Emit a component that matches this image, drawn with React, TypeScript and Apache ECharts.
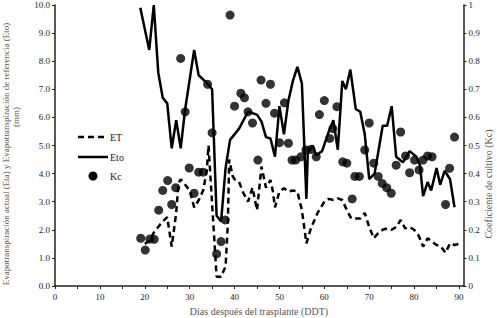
import React, { useEffect, useRef } from "react";
import * as echarts from "echarts";

const etData: [number, number][] = [
  [20, 1.5], [21, 1.6], [22, 1.9], [23, 2.1], [24, 2.3], [25, 2.45], [26, 1.4], [27, 2.6],
  [27.5, 3.65], [28, 3.8], [29, 3.6], [30, 3.4], [31, 2.8], [32, 3.05], [33, 3.4], [33.8, 4.1],
  [34.2, 5.0], [36, 0.33], [37, 0.33], [38, 0.7], [38.5, 2.2], [38.8, 4.5], [39.6, 3.9], [40, 3.8],
  [41, 3.7], [42, 3.3], [43, 3.0], [44, 3.5], [45, 2.7], [46, 4.25], [47, 3.5], [48, 3.77],
  [48.5, 3.4], [49, 2.8], [50, 3.36], [51, 3.48], [52, 3.36], [53, 3.4], [54, 3.36], [55, 2.7],
  [56, 1.52], [57, 2.05], [58.5, 2.6], [60, 3.0], [61, 3.1], [62, 3.06], [63, 3.12], [64, 3.06],
  [65, 2.7], [66, 2.4], [67, 2.4], [68, 2.4], [69, 2.6], [70, 2.1], [71, 1.7], [72, 1.88],
  [73, 2.0], [74, 2.05], [75, 2.0], [76, 2.1], [77, 2.35], [78, 2.05], [79, 2.1], [80, 2.0],
  [81, 1.8], [82, 1.4], [83, 1.7], [84, 1.58], [85, 1.46], [86, 1.4], [87, 1.18], [88, 1.52],
  [89, 1.46], [90, 1.5],
];

const etoData: [number, number][] = [
  [19, 9.9], [21, 8.4], [22, 10.0], [23, 7.6], [24, 6.7], [25, 6.5], [26, 4.9], [27, 5.9],
  [28, 4.9], [29, 6.3], [31, 8.4], [32, 7.5], [34, 7.2], [35, 7.0], [36, 2.5], [37, 2.3],
  [38, 4.2], [39, 5.2], [41, 5.6], [43, 6.2], [45, 6.1], [46, 5.85], [47, 5.3], [48, 5.25],
  [49, 4.6], [50, 6.4], [51, 5.4], [52, 6.6], [53, 7.3], [54, 7.8], [55, 7.2], [56, 3.1],
  [56.3, 4.7], [57.4, 5.0], [58.2, 4.65], [59.5, 4.8], [61, 5.5], [62, 5.9], [63, 4.85],
  [64, 7.3], [64.8, 7.0], [65.8, 7.7], [67, 6.3], [68, 6.2], [69, 5.4], [70, 3.8], [71.2, 4.0],
  [73, 5.7], [74, 5.7], [75, 6.4], [76, 4.6], [77.5, 4.4], [79, 4.8], [80.5, 4.6], [81.3, 4.3],
  [82, 3.2], [83, 3.7], [83.8, 3.4], [85, 4.2], [85.8, 3.6], [86.8, 4.1], [88, 3.8], [89, 2.8],
];

const kcData: [number, number][] = [
  [19.1, 0.17], [20.1, 0.128], [21.1, 0.167], [22.1, 0.166], [23.1, 0.27], [24, 0.34],
  [25.1, 0.375], [26, 0.29], [26.9, 0.35], [28, 0.81], [29, 0.62], [29.9, 0.42], [31, 0.33],
  [32, 0.405], [33, 0.405], [34, 0.718], [35, 0.545], [36, 0.114], [37, 0.158], [37.9, 0.235],
  [39, 0.964], [40, 0.64], [41.4, 0.686], [42.2, 0.67], [43, 0.62], [44, 0.58], [45.2, 0.448],
  [45.9, 0.733], [47, 0.65], [48, 0.718], [48.9, 0.615], [50, 0.51], [51.1, 0.652], [52, 0.508],
  [52.8, 0.448], [53.6, 0.448], [54.8, 0.46], [55.9, 0.484], [57, 0.486], [58.2, 0.46],
  [58.9, 0.61], [60, 0.66], [61.2, 0.525], [61.9, 0.56], [62.8, 0.638], [64.1, 0.442],
  [65, 0.437], [66.2, 0.31], [66.8, 0.39], [67.8, 0.39], [69, 0.484], [70, 0.58], [71, 0.437],
  [72, 0.39], [72.9, 0.365], [73.9, 0.35], [74.9, 0.33], [76, 0.43], [77, 0.548], [78.1, 0.463],
  [79, 0.403], [80.1, 0.448], [81.1, 0.413], [82, 0.448], [83, 0.463], [84, 0.46], [87, 0.29],
  [87.9, 0.419], [89, 0.53],
];

const xTitle = "Días después del trasplante (DDT)";
const yLeftTitle = "Evapotranspiración actual (Eta) y Evapotranspiración de referencia (Eto)";
const yLeftUnit = "(mm)";
const yRightTitle = "Coeficiente de cultivo (Kc)";
const legendNames = ["ET", "Eto", "Kc"];

const FONT = "'Liberation Serif', 'Times New Roman', serif";

export default function App() {
  const ref = useRef<HTMLDivElement>(null);
  useEffect(() => {
    document.body.style.margin = "0";
    if (!ref.current) return;
    const chart = echarts.init(ref.current, null, { renderer: "svg" });
    const axisLine = { show: true, lineStyle: { color: "#222", width: 1.5 } };
    const axisTick = { show: true, inside: false, length: 3, lineStyle: { color: "#222", width: 1 } };
    const labelStyle = { color: "#222", fontSize: 9, fontFamily: FONT };
    chart.setOption({
      animation: false,
      backgroundColor: "#fff",
      grid: { left: 55, right: 33.5, top: 5, bottom: 32, containLabel: false },
      xAxis: {
        type: "value",
        min: 0,
        max: 91,
        interval: 5,
        axisLine,
        axisTick,
        splitLine: { show: false },
        axisLabel: {
          ...labelStyle,
          margin: 6,
          showMaxLabel: false,
          formatter: (v: number) => (v % 10 === 0 ? String(v) : ""),
        },
      },
      yAxis: [
        {
          type: "value",
          min: 0,
          max: 10,
          interval: 1,
          axisLine,
          axisTick,
          splitLine: { show: false },
          axisLabel: { ...labelStyle, margin: 5, formatter: (v: number) => v.toFixed(1) },
        },
        {
          type: "value",
          min: 0,
          max: 1,
          interval: 0.1,
          position: "right",
          axisLine,
          axisTick,
          splitLine: { show: false },
          axisLabel: {
            ...labelStyle,
            margin: 5,
            formatter: (v: number) => (v === 0 ? "0" : Math.abs(v - 1) < 1e-9 ? "1" : v.toFixed(1)),
          },
        },
      ],
      series: [
        {
          name: legendNames[0],
          type: "line",
          data: etData,
          yAxisIndex: 0,
          symbol: "none",
          lineStyle: { color: "#000", width: 2.5, type: [6, 4] },
          z: 2,
        },
        {
          name: legendNames[1],
          type: "line",
          data: etoData,
          yAxisIndex: 0,
          symbol: "none",
          lineStyle: { color: "#000", width: 2.5 },
          z: 3,
        },
        {
          name: legendNames[2],
          type: "scatter",
          data: kcData,
          yAxisIndex: 1,
          symbol: "circle",
          symbolSize: 9,
          itemStyle: { color: "#000" },
          z: 4,
        },
      ],
      graphic: [
        {
          type: "text",
          x: 259,
          y: 311,
          style: { text: xTitle, fill: "#555", font: `10px ${FONT}`, align: "center", verticalAlign: "middle" },
        },
        {
          type: "text",
          x: 5.5,
          y: 154,
          rotation: Math.PI / 2,
          style: { text: yLeftTitle, fill: "#555", font: `9px ${FONT}`, align: "center", verticalAlign: "middle" },
        },
        {
          type: "text",
          x: 16,
          y: 117,
          rotation: Math.PI / 2,
          style: { text: yLeftUnit, fill: "#555", font: `9px ${FONT}`, align: "center", verticalAlign: "middle" },
        },
        {
          type: "text",
          x: 488,
          y: 184,
          rotation: Math.PI / 2,
          style: { text: yRightTitle, fill: "#555", font: `10px ${FONT}`, align: "center", verticalAlign: "middle" },
        },
        {
          type: "line",
          shape: { x1: 78, y1: 137, x2: 106, y2: 137 },
          style: { stroke: "#000", lineWidth: 2.5, lineDash: [6, 4] },
        },
        {
          type: "text",
          x: 110,
          y: 137,
          style: { text: legendNames[0], fill: "#222", font: `10px ${FONT}`, verticalAlign: "middle" },
        },
        {
          type: "line",
          shape: { x1: 78, y1: 157, x2: 108, y2: 157 },
          style: { stroke: "#000", lineWidth: 2.5 },
        },
        {
          type: "text",
          x: 110,
          y: 157,
          style: { text: legendNames[1], fill: "#222", font: `10px ${FONT}`, verticalAlign: "middle" },
        },
        {
          type: "circle",
          shape: { cx: 93, cy: 176, r: 4.5 },
          style: { fill: "#000" },
        },
        {
          type: "text",
          x: 110,
          y: 176,
          style: { text: legendNames[2], fill: "#222", font: `10px ${FONT}`, verticalAlign: "middle" },
        },
      ],
    });
    return () => chart.dispose();
  }, []);
  return <div ref={ref} style={{ width: 497, height: 318 }} />;
}
